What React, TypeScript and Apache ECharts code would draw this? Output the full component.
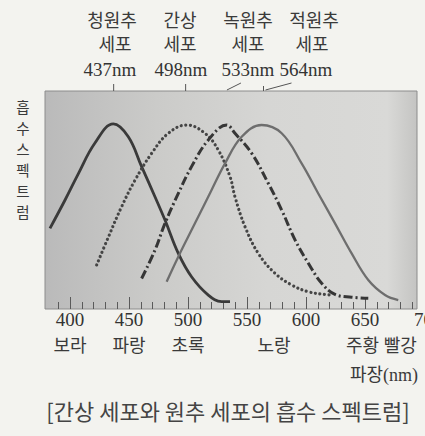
import React, { useEffect, useRef } from "react";
import * as echarts from "echarts";

// absorbance curves: [wavelength nm, relative absorbance]
const blueCone: number[][] = [[383,37],[395.8,50],[407,62],[421,76],[436.7,84.9],[449.4,79],[460.7,65.3],[472,51.5],[480.5,40.8],[491.8,25.5],[503,14.8],[517.2,6.4],[528.5,3.4],[535.6,3.4]];
const rod: number[][] = [[422.6,20.2],[432.5,33],[443.8,47],[455,59],[469.2,71.4],[483.3,80.6],[498.9,84.4],[514.4,80.6],[525.7,72.9],[535.6,60.7],[539.8,51.5],[548.3,37.8],[559.6,25.5],[573.7,16.4],[587.9,11],[602,7.9],[616,6.7],[623,6.4]];
const greenCone: number[][] = [[460.7,14],[472,27],[480.5,39.3],[491.8,53],[503,65.3],[517.2,77.5],[532.8,84.4],[539.8,80.6],[554,71.4],[568,57.7],[579.4,45.4],[590.7,31.7],[602,21],[613.3,11.8],[624.6,6.7],[638.7,5.4],[652.8,4.9]];
const redCone: number[][] = [[481.9,12.5],[491.8,24],[505.9,39.3],[520,54.6],[531.4,66.8],[545.5,79],[562.4,84.4],[579.4,80.6],[596.3,66.8],[610.4,53],[624.6,39.3],[638.7,25.5],[652.8,13.3],[667,6.4],[678.2,4.1]];

const majorTicks = [400, 450, 500, 550, 600, 650];
const minorTicks = [390,410,420,430,440,460,470,480,490,510,520,530,540,560,570,580,590,610,620,630,640,660,670,680,690];
const colorNames = ["보라", "파랑", "초록", "노랑", "주황", "빨강"];
const colorPos = [400, 450, 500, 573, 648, 680];

const peakNames = ["청원추", "간상", "녹원추", "적원추"];
const peakWaves = [437, 498, 533, 564];

const caption = "[간상 세포와 원추 세포의 흡수 스펙트럼]";
const yNameChars = ["흡", "수", "스", "펙", "트", "럼"];
const xName = "파장(nm)";

const X_MIN = 378.8;
const X_MAX = 694.1;

const SERIF = "'Liberation Serif', 'Noto Sans CJK KR', serif";
const KR = "'Noto Sans CJK KR', sans-serif";

export default function App() {
  const ref = useRef<HTMLDivElement>(null);
  useEffect(() => {
    if (!ref.current) return;
    const chart = echarts.init(ref.current, null, { renderer: "svg" });
    const lineBase = { type: "line", smooth: 0.4, symbol: "none", xAxisIndex: 0, yAxisIndex: 0 };
    chart.setOption({
      animation: false,
      backgroundColor: "#f3f3ef",
      grid: {
        left: 45, top: 91, right: 8, bottom: 127,
        show: true,
        borderColor: "#8c8c8c",
        borderWidth: 1,
        backgroundColor: new echarts.graphic.LinearGradient(0, 0, 1, 0, [
          { offset: 0, color: "#bababa" },
          { offset: 0.3, color: "#cbcbc9" },
          { offset: 0.6, color: "#d6d6d4" },
          { offset: 0.92, color: "#d9d9d7" },
          { offset: 1, color: "#c4c4c2" },
        ]),
      },
      xAxis: [
        {
          type: "value", min: X_MIN, max: X_MAX, position: "bottom",
          axisLine: { show: false }, splitLine: { show: false },
          axisTick: { show: true, inside: true, length: 12, customValues: majorTicks, lineStyle: { color: "#5a5a5a", width: 1 } },
          axisLabel: { customValues: majorTicks, fontFamily: SERIF, fontSize: 19, color: "#333", margin: 1 },
        },
        {
          type: "value", min: X_MIN, max: X_MAX, position: "bottom",
          axisLine: { show: false }, splitLine: { show: false },
          axisTick: { show: true, inside: true, length: 7, customValues: minorTicks, lineStyle: { color: "#5a5a5a", width: 1 } },
          axisLabel: { show: false },
        },
        {
          type: "value", min: X_MIN, max: X_MAX, position: "bottom", offset: 25,
          axisLine: { show: false }, splitLine: { show: false }, axisTick: { show: false },
          axisLabel: {
            customValues: colorPos, fontFamily: KR, fontSize: 18, lineHeight: 20, color: "#3a3a3a", margin: 0,
            formatter: (v: number) => colorNames[colorPos.indexOf(v)] ?? "",
          },
        },
      ],
      yAxis: { type: "value", min: 0, max: 100, show: false },
      series: [
        { ...lineBase, name: "청원추", data: blueCone, lineStyle: { color: "#3a3a3a", width: 2.8 } },
        { ...lineBase, name: "간상", data: rod, lineStyle: { color: "#454545", width: 3.2, type: [0.01, 4.6], cap: "round" } },
        { ...lineBase, name: "녹원추", data: greenCone, lineStyle: { color: "#363636", width: 3, type: [9, 3, 2, 3] } },
        { ...lineBase, name: "적원추", data: redCone, lineStyle: { color: "#6e6e6e", width: 2.3 } },
      ],
    });

    const px = (v: number) => chart.convertToPixel({ xAxisIndex: 0 }, v) as number;
    const nameCx = [112, 180, 248, 314];
    const cellCx = [115, 180, 248, 312];
    const nmCx = [110, 181, 248, 306];
    const g: any[] = [];
    peakWaves.forEach((w, i) => {
      g.push({ type: "text", x: nameCx[i], y: 19, style: { text: peakNames[i], font: `18px ${KR}`, fill: "#3a3a3a", align: "center", verticalAlign: "middle" } });
      g.push({ type: "text", x: cellCx[i], y: 43, style: { text: "세포", font: `18px ${KR}`, fill: "#3a3a3a", align: "center", verticalAlign: "middle" } });
      g.push({ type: "text", x: nmCx[i], y: 69, style: { text: `${w}nm`, font: `19px ${SERIF}`, fill: "#333", align: "center", verticalAlign: "middle" } });
      const x = px(w);
      if (i < 2) {
        g.push({ type: "line", shape: { x1: x, y1: 84, x2: x, y2: 91 }, style: { stroke: "#555", lineWidth: 1 } });
      } else if (i === 2) {
        g.push({ type: "line", shape: { x1: x, y1: 90, x2: x + 14, y2: 83 }, style: { stroke: "#555", lineWidth: 1 } });
      } else {
        g.push({ type: "line", shape: { x1: x, y1: 86, x2: x, y2: 91 }, style: { stroke: "#555", lineWidth: 1 } });
        g.push({ type: "line", shape: { x1: x + 2, y1: 90, x2: x + 28, y2: 83 }, style: { stroke: "#555", lineWidth: 1 } });
      }
    });
    g.push({ type: "text", x: 414, y: 319, style: { text: "700", font: `19px ${SERIF}`, fill: "#333", align: "left", verticalAlign: "middle" } });
    g.push({ type: "text", x: 418, y: 375, style: { text: xName, font: `18px ${SERIF}`, fill: "#3a3a3a", align: "right", verticalAlign: "middle" } });
    yNameChars.forEach((c, i) => {
      g.push({ type: "text", x: 23, y: 106 + i * 21, style: { text: c, font: `14.5px ${KR}`, fill: "#3a3a3a", align: "center", verticalAlign: "middle" } });
    });
    g.push({ type: "text", x: 228, y: 410, style: { text: caption, font: `22px ${KR}`, fill: "#444", align: "center", verticalAlign: "middle" } });
    chart.setOption({ graphic: g });

    return () => chart.dispose();
  }, []);
  return <div ref={ref} style={{ position: "fixed", left: 0, top: 0, width: 425, height: 436 }} />;
}
